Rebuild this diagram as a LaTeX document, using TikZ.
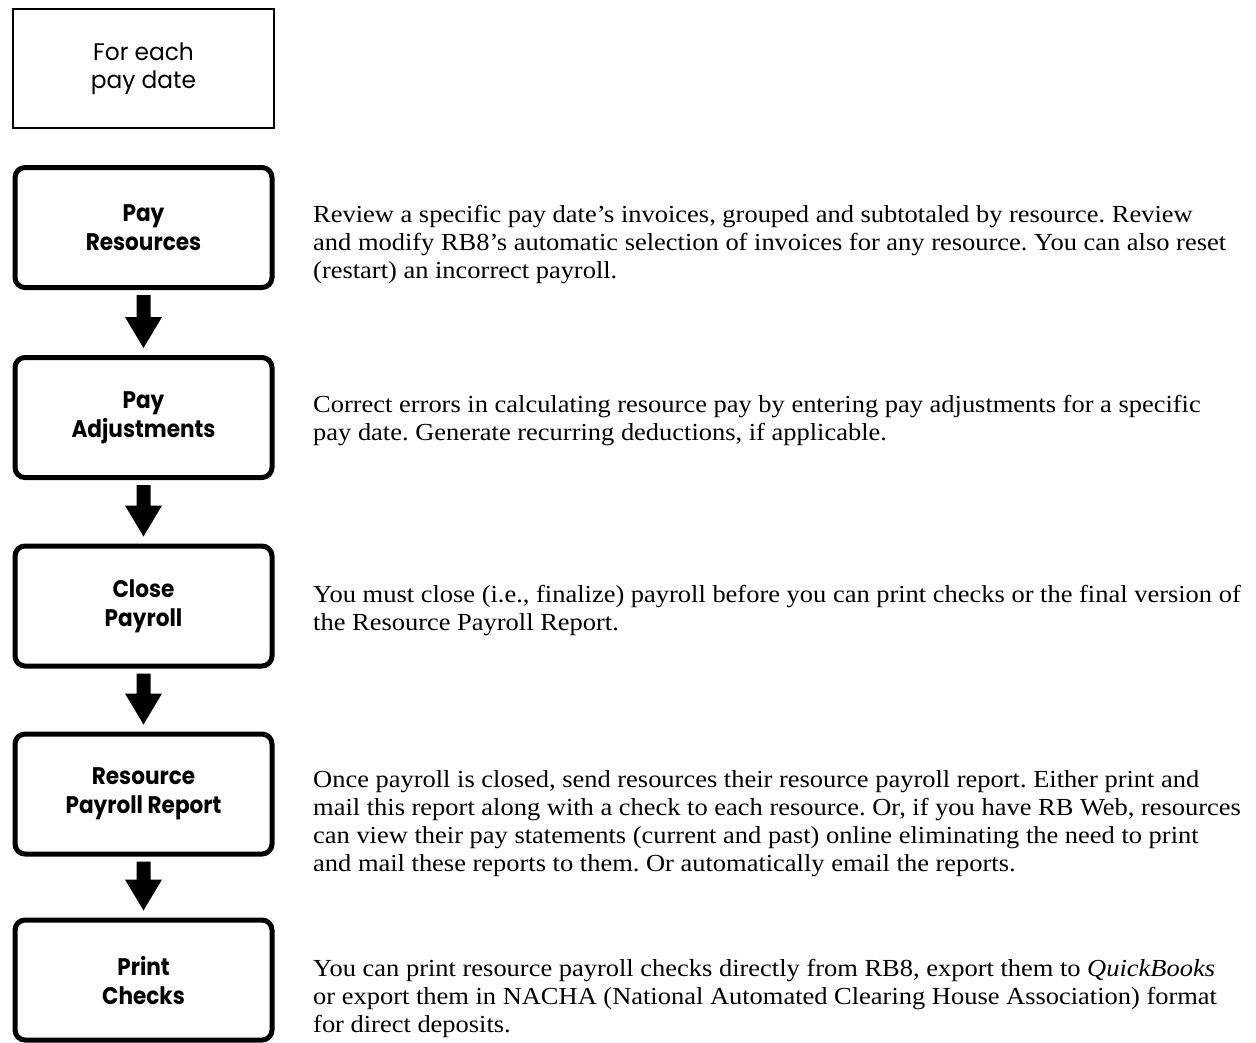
\documentclass[tikz,border=0pt]{standalone}
\usepackage{fontspec}
\setmainfont{Liberation Serif}[FakeStretch=1.08]
\newfontfamily\boxfont{Poppins}[FakeStretch=0.9]
\newfontfamily\startfont{Poppins}[FakeStretch=0.97]
\usetikzlibrary{calc}
\tikzset{
  stepbox/.style={draw, line width=5pt, rounded corners=10pt, minimum width=257pt, minimum height=120pt, inner sep=0pt, align=center, font=\boxfont\bfseries\fontsize{24}{29}\selectfont},
  startbox/.style={draw, line width=2pt, minimum width=261pt, minimum height=119pt, inner sep=0pt, align=center, font=\startfont\fontsize{24}{28}\selectfont},
  desc/.style={anchor=north west, inner sep=0pt, align=left, font=\frenchspacing\fontsize{24.5}{28}\selectfont}
}
\newcommand\flowarrow[2]{%
  \fill ($(#1.south)+(-7,5)$) -- ($(#1.south)+(7,5)$) -- ($(#2.north)+(7,-38)$) -- ($(#2.north)+(18.5,-38)$) -- ($(#2.north)+(0,-7)$) -- ($(#2.north)+(-18.5,-38)$) -- ($(#2.north)+(-7,-38)$) -- cycle;}
\begin{document}
\begin{tikzpicture}[x=1pt,y=-1pt]
\useasboundingbox (0,0) rectangle (1256,1042);
\node[startbox] (start) at (143.5,68.5) {For each\\pay date};
\node[stepbox] (b1) at (143.5,227.5) {Pay\\Resources};
\node[stepbox] (b2) at (143.5,417.5) {Pay\\Adjustments};
\node[stepbox] (b3) at (143.5,606) {Close\\Payroll};
\node[stepbox] (b4) at (143.5,794) {Resource\\Payroll Report};
\node[stepbox] (b5) at (143.5,980) {Print\\Checks};
\flowarrow{b1}{b2}
\flowarrow{b2}{b3}
\flowarrow{b3}{b4}
\flowarrow{b4}{b5}
\node[desc] (d1) at (313,204.6) {Review a specific pay date’s invoices, grouped and subtotaled by resource. Review\\and modify RB8’s automatic selection of invoices for any resource. You can also reset\\(restart) an incorrect payroll.};
\node[desc] (d2) at (313,394.6) {Correct errors in calculating resource pay by entering pay adjustments for a specific\\pay date. Generate recurring deductions, if applicable.};
\node[desc] (d3) at (313,584.6) {You must close (i.e., finalize) payroll before you can print checks or the final version of\\the Resource Payroll Report.};
\node[desc] (d4) at (313,770.6) {Once payroll is closed, send resources their resource payroll report. Either print and\\mail this report along with a check to each resource. Or, if you have RB Web, resources\\can view their pay statements (current and past) online eliminating the need to print\\and mail these reports to them. Or automatically email the reports.};
\node[desc] (d5) at (313,958.6) {You can print resource payroll checks directly from RB8, export them to \textit{QuickBooks}\\or export them in NACHA (National Automated Clearing House Association) format\\for direct deposits.};
\end{tikzpicture}
\end{document}
